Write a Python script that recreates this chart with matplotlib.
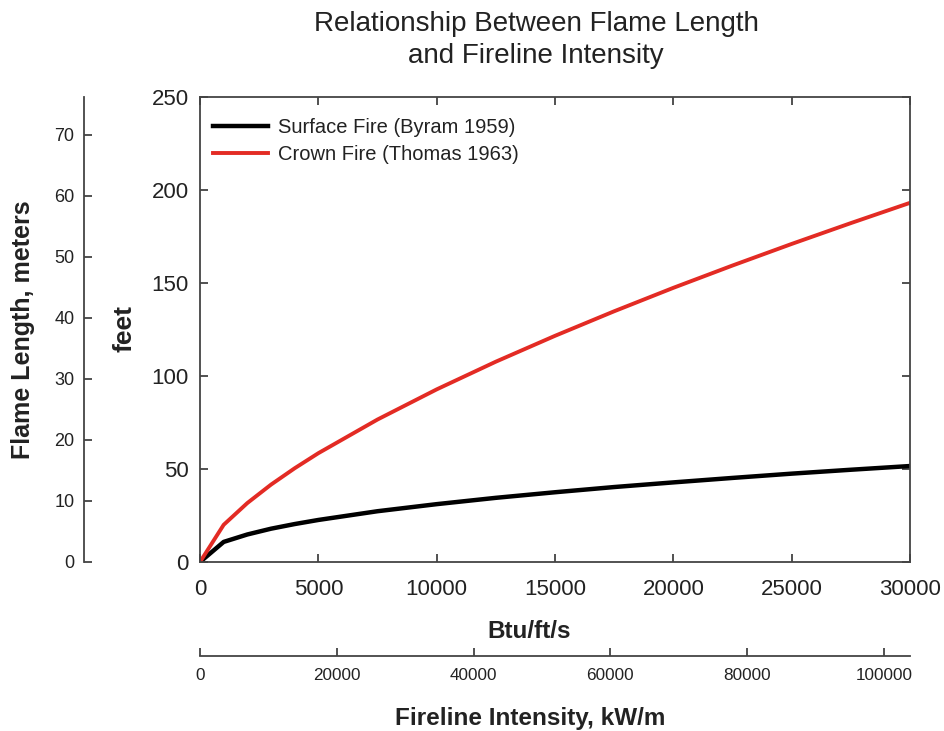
import numpy as np
import matplotlib
import matplotlib.pyplot as plt

matplotlib.rcParams['font.family'] = ['Liberation Sans', 'DejaVu Sans']

# values (x in Btu/ft/s, y in feet)
intensity = [0, 1000, 2000, 3000, 4000, 5000, 7500, 10000, 12500, 15000,
             17500, 20000, 22500, 25000, 27500, 30000]
surface_ft = [0, 10.8, 14.8, 17.9, 20.4, 22.6, 27.3, 31.1, 34.5, 37.5,
              40.3, 42.8, 45.2, 47.5, 49.6, 51.6]
crown_ft = [0, 20.0, 31.7, 41.6, 50.4, 58.5, 76.6, 92.8, 107.7, 121.6,
            134.8, 147.4, 159.4, 171.0, 182.2, 193.1]

ft_ticks = [0, 50, 100, 150, 200, 250]
btu_ticks = [0, 5000, 10000, 15000, 20000, 25000, 30000]
m_ticks = [0, 10, 20, 30, 40, 50, 60, 70]
kw_ticks = [0, 20000, 40000, 60000, 80000, 100000]

FT_PER_M = 3.2808
KW_PER_BTU = 3.4613
spine_col = '#444444'
tick_col = '#333333'
text_col = '#222222'

fig = plt.figure(figsize=(9.45, 7.31), dpi=100)
W, H = 945, 731

def box(x0, y0, x1, y1):
    # pixel box (top-left origin) -> figure fraction
    return [x0 / W, 1 - y1 / H, (x1 - x0) / W, (y1 - y0) / H]

ax = fig.add_axes(box(200, 97, 910, 562))
ax.plot(intensity, surface_ft, color='black', lw=3.2, label='Surface Fire (Byram 1959)')
ax.plot(intensity, crown_ft, color='#e32b24', lw=2.8, label='Crown Fire (Thomas 1963)')
ax.set_xlim(0, 30000)
ax.set_ylim(0, 250)
ax.set_xticks(btu_ticks)
ax.set_yticks(ft_ticks)
ax.tick_params(direction='in', top=True, right=True, length=6, width=1.2,
               labelsize=16, color=tick_col, labelcolor=text_col)
ax.tick_params(axis='y', pad=8)
ax.tick_params(axis='x', pad=12)
for s in ax.spines.values():
    s.set_color(spine_col)
    s.set_linewidth(1.3)
leg = ax.legend(loc='upper left', frameon=False, fontsize=14.5, handlelength=2.75,
                handletextpad=0.5, labelspacing=0.4, borderaxespad=0.0,
                borderpad=0.0, bbox_to_anchor=(13 / 710, 1 - 21 / 465))
for t in leg.get_texts():
    t.set_color(text_col)

# meters axis on the far left
axm = fig.add_axes(box(84, 97, 85, 562))
axm.set_ylim(0, 250 / FT_PER_M)
axm.set_yticks(m_ticks)
axm.set_xticks([])
axm.patch.set_visible(False)
for k in ['top', 'right', 'bottom']:
    axm.spines[k].set_visible(False)
axm.spines['left'].set_color(spine_col)
axm.spines['left'].set_linewidth(1.3)
axm.tick_params(axis='y', direction='in', length=6, width=1.2, labelsize=13,
                color=tick_col, labelcolor=text_col, pad=7)

# kW/m axis below
axk = fig.add_axes(box(200, 655, 910, 656))
axk.set_xlim(0, 30000 * KW_PER_BTU)
axk.set_xticks(kw_ticks)
axk.set_yticks([])
axk.patch.set_visible(False)
for k in ['top', 'right', 'left']:
    axk.spines[k].set_visible(False)
axk.spines['bottom'].set_color(spine_col)
axk.spines['bottom'].set_linewidth(1.3)
axk.tick_params(axis='x', direction='in', length=6, width=1.2, labelsize=12.3,
                color=tick_col, labelcolor=text_col, pad=9)

# axis titles
fig.text(23 / W, 1 - 330 / H, 'Flame Length, meters', rotation=90, ha='center',
         va='center', fontsize=18, fontweight='bold', color=text_col)
fig.text(125 / W, 1 - 329 / H, 'feet', rotation=90, ha='center', va='center',
         fontsize=19, fontweight='bold', color=text_col)
fig.text(529 / W, 1 - 631 / H, 'Btu/ft/s', ha='center', va='center',
         fontsize=17.5, fontweight='bold', color=text_col)
fig.text(530 / W, 1 - 718 / H, 'Fireline Intensity, kW/m', ha='center', va='center',
         fontsize=17.5, fontweight='bold', color=text_col)

fig.text(536 / W, 1 - 40 / H, 'Relationship Between Flame Length\nand Fireline Intensity',
         ha='center', va='center', fontsize=20, linespacing=1.3, color=text_col)

fig.savefig('out.png', dpi=100)
